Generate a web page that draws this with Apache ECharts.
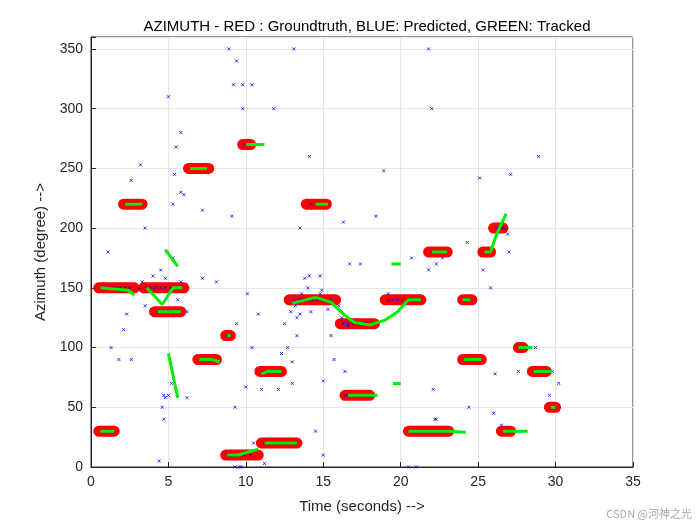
<!DOCTYPE html>
<html><head><meta charset="utf-8">
<script src="https://cdn.jsdelivr.net/npm/echarts@6/dist/echarts.min.js"></script>
<style>html,body{margin:0;background:#fff}#c{width:700px;height:525px}</style>
</head><body><div id="c"></div>
<script>
// Ground truth segments
const gtStart=[0.5,0.5,2.1,3.4,4.1,6.3,6.9,8.7,8.7,9.8,11.0,10.9,12.8,13.9,16.1,16.4,19.0,20.5,21.8,24.0,24.0,25.3,26.0,26.5,27.6,28.5,29.6];
const gtEnd  =[2.8,1.5,3.3,6.0,5.8,7.6,8.1,9.0,10.8,10.3,13.3,12.3,15.8,15.2,18.3,18.0,21.3,23.1,23.0,24.6,25.2,25.8,26.6,27.1,27.9,29.4,30.0];
const gtAz   =[150,30,220,150,130,250,90,110,10,270,20,80,140,220,120,60,140,30,180,140,90,180,200,30,100,80,50];
// Predicted (blue) points
const predX=[0.7,1.0,1.3,1.6,1.9,2.2,2.5,0.8,1.2,2.3,2.6,2.9,3.1,3.6,3.9,4.2,4.5,4.8,5.1,5.4,5.7,4.3,4.6,4.9,5.2,5.5,6.5,6.9,7.3,7.1,7.5,7.9,8.8,9.0,9.2,9.5,9.9,10.3,9.9,10.2,11.2,11.6,12.0,12.4,12.8,13.2,11.1,11.5,11.9,13.1,13.4,13.7,14.0,14.3,14.6,14.9,15.2,15.5,13.2,13.6,14.2,14.8,15.3,13.5,14.0,14.9,14.2,14.6,15.0,16.3,16.6,16.9,17.2,17.5,17.8,18.1,16.2,16.6,16.4,16.6,17.0,17.4,17.8,19.2,19.5,19.8,20.1,20.4,20.7,21.0,20.7,21.0,21.3,21.6,21.9,22.2,22.5,22.8,22.0,22.4,22.8,24.2,24.4,24.2,24.6,25.0,25.5,26.2,26.5,26.7,27.0,27.7,28.7,29.0,29.3,29.8,
 9.3,13.1,21.8,8.9,9.4,9.8,10.4,9.2,9.8,11.8,22.0,5.0,5.8,5.4,2.6,5.5,5.8,6.0,5.3,7.2,9.1,16.3,18.4,13.5,14.1,18.9,25.1,27.1,28.9,3.2,3.5,24.3,26.9,27.0,25.3,22.3,14.1,14.8,8.1,7.2,19.2,17.4,20.7,22.7,1.3,2.6,1.8,2.1,2.3,3.5,10.1,10.8,9.4,6.2,5.8,4.8,4.0,3.3,13.8,15.0,15.7,16.4,10.4,10.0,6.2,11.8,13.0,13.3,12.3,12.7,13.0,12.1,14.5,15.0,20.5,22.1,21.0,22.3,22.2,24.4,26.5,26.0,30.2,29.6,27.6,26.1,25.8,21.8,16.7,1.1,4.7,4.6,4.8,4.7,5.2,5.0,11.0,11.2,8.9,10.5,9.3,9.6,9.7,4.4,4.9,5.3,4.5,5.6,12.5,12.9,13.3,16.0,15.5];
const predY=[150,150,150,150,150,150,150,30,30,220,220,220,150,150,150,150,150,150,150,150,150,130,130,130,130,130,250,250,250,90,90,90,110,10,10,10,10,10,270,270,20,20,20,20,20,20,80,80,80,140,140,140,140,140,140,140,140,140,135,145,130,145,132,128,150,148,220,220,220,120,120,120,120,120,120,120,125,118,60,60,60,60,60,140,140,140,140,140,140,140,30,30,30,30,30,30,30,30,180,180,180,140,140,90,90,90,180,200,200,200,30,30,100,80,80,80,50,
 350,350,350,340,320,320,320,300,300,300,310,280,245,240,268,230,228,220,215,210,205,210,200,260,248,242,245,260,253,200,188,195,180,165,170,160,160,155,158,145,170,175,175,100,90,90,115,128,135,145,128,120,130,155,158,160,155,158,72,90,80,100,67,58,80,70,110,95,100,88,65,30,10,0,65,0,40,40,50,35,45,70,60,80,78,150,165,170,180,40,50,58,60,70,60,65,3,10,20,0,0,0,5,180,175,165,140,120,130,125,135,110,150];
// Tracked (green) polylines, separated by null
const trackX=[0.6,2.4,2.8,null,0.6,1.5,null,2.2,3.3,null,3.6,4.6,5.3,5.9,null,4.8,5.6,null,5.0,5.6,null,4.3,5.8,null,6.4,7.5,null,7.0,7.8,8.3,null,8.8,9.0,null,8.8,9.5,10.8,null,10.0,11.2,null,11.0,11.4,12.3,null,11.2,13.3,null,13.0,14.5,15.5,16.3,17.0,18.0,19.0,19.8,20.5,21.3,null,14.5,15.3,null,16.6,18.5,null,19.4,20.0,null,19.5,20.0,null,20.5,23.0,24.2,null,22.0,23.0,null,24.0,24.5,null,24.1,25.2,null,25.4,25.8,26.2,26.8,null,26.6,28.2,null,27.6,28.5,null,28.6,29.8,null,29.7,30.0];
const trackY=[150,148,144,null,30,30,null,220,220,null,150,136,150,150,null,182,168,null,95,58,null,130,130,null,250,250,null,90,90,88,null,110,110,null,10,10,15,null,270,270,null,78,80,80,null,20,20,null,137,142,138,128,121,119,123,130,140,140,null,220,220,null,60,60,null,170,170,null,70,70,null,30,30,29,null,180,180,null,140,140,null,90,90,null,180,180,195,212,null,30,30,null,100,100,null,80,80,null,50,50];

const gtData=[];gtStart.forEach((s,i)=>{gtData.push([s,gtAz[i]],[gtEnd[i],gtAz[i]],'-');});
const predData=predX.map((x,i)=>[x,predY[i]]);
const trData=trackX.map((x,i)=>x===null?'-':[x,trackY[i]]);
const xTicks=[0,5,10,15,20,25,30,35];

const ch=echarts.init(document.getElementById('c'));
const ax={axisLine:{show:true,lineStyle:{color:'#262626'}},axisTick:{inside:true,length:5,lineStyle:{color:'#262626'}},
 splitLine:{show:true,lineStyle:{color:'#e6e6e6'}},axisLabel:{color:'#262626',fontSize:14,fontFamily:'Liberation Sans, Arial'}};
ch.setOption({
 animation:false,
 title:{text:'AZIMUTH - RED : Groundtruth, BLUE: Predicted, GREEN: Tracked',left:362,textAlign:'center',top:14,
  textStyle:{fontSize:15,fontWeight:'normal',color:'#000',fontFamily:'Liberation Sans, Arial'}},
 grid:{left:91,right:67,top:37,bottom:58,show:true,borderColor:'#262626',borderWidth:1},
 xAxis:Object.assign({},ax,{type:'value',min:0,max:35,interval:5,name:'Time (seconds) -->',nameLocation:'middle',nameGap:32,
  nameTextStyle:{fontSize:15,color:'#262626',fontFamily:'Liberation Sans, Arial'}}),
 yAxis:Object.assign({},ax,{type:'value',min:0,max:360,interval:50,name:'Azimuth (degree) -->',nameLocation:'middle',nameGap:40,
  nameTextStyle:{fontSize:15,color:'#262626',fontFamily:'Liberation Sans, Arial'},
  axisLabel:Object.assign({},ax.axisLabel,{formatter:v=>v>350?'':v})}),
 series:[
  {type:'line',data:gtData,symbol:'none',connectNulls:false,lineStyle:{color:'#ff0000',width:11,cap:'round'},z:1},
  {type:'scatter',data:predData,symbol:'path://M0,0L1,1M1,0L0,1',symbolSize:3,itemStyle:{color:'none',borderColor:'#0000ff',borderWidth:1},z:2},
  {type:'line',data:trData,symbol:'none',connectNulls:false,lineStyle:{color:'#00ee00',width:3},z:3}
 ],
 graphic:[{type:'text',right:8,bottom:6,style:{text:'CSDN @河神之光',fontSize:11,fill:'#aaa',fontFamily:'Noto Sans CJK SC'}}]
});
</script></body></html>
